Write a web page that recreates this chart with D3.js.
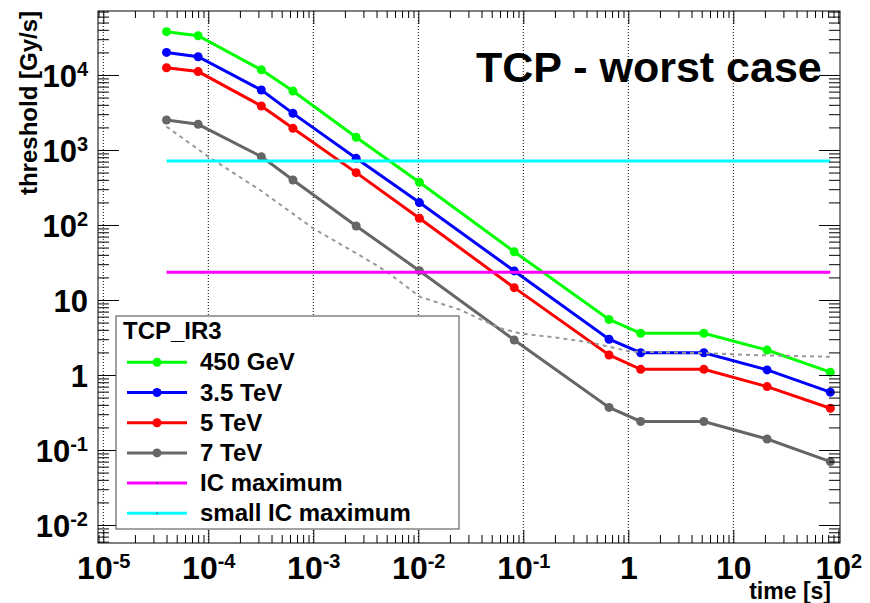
<!DOCTYPE html>
<html>
<head>
<meta charset="utf-8">
<script src="https://cdn.jsdelivr.net/npm/d3@7"></script>
<style>
body { margin: 0; background: #fff; }
text { font-family: "Liberation Sans", Arial, Helvetica, sans-serif; font-weight: bold; fill: #000; }
</style>
</head>
<body>
<div id="chart-area"></div>
<script>
// running-sum integration times [s]
var times = [4e-5, 8e-5, 3.2e-4, 6.4e-4, 2.56e-3, 1.024e-2, 8.192e-2, 0.655, 1.311, 5.243, 20.97, 83.89];

// thresholds [Gy/s]
var gev450 = [37800, 33400, 11700, 6100, 1475, 371, 44, 5.5, 3.6, 3.6, 2.15, 1.09];
var tev35 = [20000, 17500, 6300, 3080, 774, 199, 24.4, 3.0, 1.98, 1.98, 1.17, 0.59];
var tev5 = [12500, 11100, 3860, 1945, 499, 123, 14.6, 1.85, 1.19, 1.19, 0.70, 0.36];
var tev7 = [2510, 2200, 815, 398, 97, 24.6, 2.93, 0.37, 0.24, 0.24, 0.14, 0.07];

var icMax = 23.4;
var smallIcMax = 715;

// dashed reference curve (not in legend)
var refTimes = [4e-5, 1e-4, 3.1e-4, 1e-3, 3.7e-3, 5e-3, 1.04e-2, 0.025, 0.06, 0.093, 0.224, 0.46, 1.04, 5.1, 14.4, 83];
var refValues = [2050, 815, 293, 90, 31, 23.8, 11, 7.4, 4.2, 3.6, 3.1, 2.67, 2.05, 1.96, 1.85, 1.75];

var xMajor = [1e-5, 1e-4, 1e-3, 1e-2, 1e-1, 1, 10, 100];
var yMajor = [1e-2, 1e-1, 1, 10, 100, 1e3, 1e4];

var series = [
    { name: "450 GeV", values: gev450, color: "#00ff00" },
    { name: "3.5 TeV", values: tev35, color: "#0000ff" },
    { name: "5 TeV", values: tev5, color: "#ff0000" },
    { name: "7 TeV", values: tev7, color: "#666666" }
];

//Frame
var frame = { left: 98, right: 840, top: 11, bottom: 543 };

var svg = d3.select("#chart-area")
    .append("svg")
    .attr("width", 870)
    .attr("height", 603);

// SCALES
var x = d3.scaleLog()
    .domain([Math.pow(10, -5.0505), Math.pow(10, 2.016)])
    .range([frame.left, frame.right]);

var y = d3.scaleLog()
    .domain([Math.pow(10, -2.24), Math.pow(10, 4.853)])
    .range([frame.bottom, frame.top]);

function minorTicks(scale) {
    var d = scale.domain(), out = [];
    for (var e = -7; e <= 5; e++) {
        for (var k = 2; k <= 9; k++) {
            var v = k * Math.pow(10, e);
            if (v > d[0] && v < d[1]) out.push(v);
        }
    }
    return out;
}

// grid (x only)
svg.append("g").selectAll("line")
    .data(xMajor.filter((d) => x(d) < frame.right - 3))
    .enter().append("line")
    .attr("x1", (d) => x(d)).attr("x2", (d) => x(d))
    .attr("y1", frame.top).attr("y2", frame.bottom)
    .attr("stroke", "#000")
    .attr("stroke-width", 1)
    .attr("stroke-dasharray", "1,2");

//---SERIES
var line = d3.line()
    .x((d) => x(d[0]))
    .y((d) => y(d[1]));

series.forEach((s) => {
    var pts = times.map((t, i) => [t, s.values[i]]);
    svg.append("path")
        .datum(pts)
        .attr("d", line)
        .attr("fill", "none")
        .attr("stroke", s.color)
        .attr("stroke-width", 3);
    svg.append("g").selectAll("circle")
        .data(pts).enter()
        .append("circle")
        .attr("cx", (d) => x(d[0]))
        .attr("cy", (d) => y(d[1]))
        .attr("r", 4.5)
        .attr("fill", s.color);
});

// dashed reference curve
svg.append("path")
    .datum(refTimes.map((t, i) => [t, refValues[i]]))
    .attr("d", line)
    .attr("fill", "none")
    .attr("stroke", "#999")
    .attr("stroke-width", 2)
    .attr("stroke-dasharray", "4,4");

// IC limits
var tFirst = times[0], tLast = times[times.length - 1];
[[smallIcMax, "#00ffff"], [icMax, "#ff00ff"]].forEach((h) => {
    svg.append("line")
        .attr("x1", x(tFirst)).attr("x2", x(tLast))
        .attr("y1", y(h[0])).attr("y2", y(h[0]))
        .attr("stroke", h[1])
        .attr("stroke-width", 3);
});

//AXIS
function powLabel(sel, v) {
    var e = Math.round(Math.log10(v));
    sel.text(null);
    if (e === 0) { sel.append("tspan").text("1"); return; }
    if (e === 1) { sel.append("tspan").text("10"); return; }
    sel.append("tspan").text("10");
    sel.append("tspan").attr("dy", -11).style("font-size", "20px").text(e);
}

function styleAxis(g) {
    g.select(".domain").remove();
    g.selectAll(".tick line").attr("stroke", "#000").attr("stroke-width", 1);
}

var xBottom = svg.append("g").attr("transform", "translate(0," + frame.bottom + ")")
    .call(d3.axisBottom(x).tickValues(xMajor).tickSize(-13).tickSizeOuter(0));
styleAxis(xBottom);
xBottom.selectAll("text")
    .attr("y", 36).attr("dy", null)
    .style("font-size", "32px")
    .attr("text-anchor", "middle")
    .each(function (d) { powLabel(d3.select(this), d); });

svg.append("g").attr("transform", "translate(0," + frame.bottom + ")")
    .call(d3.axisBottom(x).tickValues(minorTicks(x)).tickSize(-8).tickSizeOuter(0).tickFormat(""))
    .call(styleAxis);
svg.append("g").attr("transform", "translate(0," + frame.top + ")")
    .call(d3.axisTop(x).tickValues(xMajor).tickSize(-13).tickSizeOuter(0).tickFormat(""))
    .call(styleAxis);
svg.append("g").attr("transform", "translate(0," + frame.top + ")")
    .call(d3.axisTop(x).tickValues(minorTicks(x)).tickSize(-7).tickSizeOuter(0).tickFormat(""))
    .call(styleAxis);

var yLeft = svg.append("g").attr("transform", "translate(" + frame.left + ",0)")
    .call(d3.axisLeft(y).tickValues(yMajor).tickSize(-21).tickSizeOuter(0));
styleAxis(yLeft);
yLeft.selectAll("text")
    .attr("x", -10).attr("dy", 12)
    .style("font-size", "31px")
    .attr("text-anchor", "end")
    .each(function (d) { powLabel(d3.select(this), d); });

svg.append("g").attr("transform", "translate(" + frame.left + ",0)")
    .call(d3.axisLeft(y).tickValues(minorTicks(y)).tickSize(-11).tickSizeOuter(0).tickFormat(""))
    .call(styleAxis);
svg.append("g").attr("transform", "translate(" + frame.right + ",0)")
    .call(d3.axisRight(y).tickValues(yMajor).tickSize(-21).tickSizeOuter(0).tickFormat(""))
    .call(styleAxis);
svg.append("g").attr("transform", "translate(" + frame.right + ",0)")
    .call(d3.axisRight(y).tickValues(minorTicks(y)).tickSize(-11).tickSizeOuter(0).tickFormat(""))
    .call(styleAxis);

// frame
svg.append("rect")
    .attr("x", frame.left).attr("y", frame.top)
    .attr("width", frame.right - frame.left).attr("height", frame.bottom - frame.top)
    .attr("fill", "none")
    .attr("stroke", "#000")
    .attr("stroke-width", 1);

//---TITLE LABELS
svg.append("text")
    .attr("x", 476).attr("y", 82)
    .style("font-size", "43px")
    .text("TCP - worst case");

svg.append("text")
    .attr("x", 831).attr("y", 599)
    .attr("text-anchor", "end")
    .style("font-size", "23px")
    .text("time [s]");

svg.append("text")
    .attr("transform", "translate(37," + frame.top + ") rotate(-90)")
    .attr("text-anchor", "end")
    .style("font-size", "24px")
    .text("threshold [Gy/s]");

//---LEGEND
var legend = svg.append("g");
legend.append("rect")
    .attr("x", 116).attr("y", 316)
    .attr("width", 343).attr("height", 213)
    .attr("fill", "#fff")
    .attr("stroke", "#444")
    .attr("stroke-width", 1);

legend.append("text")
    .attr("x", 123).attr("y", 339)
    .style("font-size", "24px")
    .text("TCP_IR3");

var legendItems = series.map((s) => ({ name: s.name, color: s.color, marker: true }))
    .concat([
        { name: "IC maximum", color: "#ff00ff", marker: false },
        { name: "small IC maximum", color: "#00ffff", marker: false }
    ]);

legendItems.forEach((d, i) => {
    var cy = 362.3 + i * 30.2;
    legend.append("line")
        .attr("x1", 127).attr("x2", 187)
        .attr("y1", cy).attr("y2", cy)
        .attr("stroke", d.color)
        .attr("stroke-width", 3);
    legend.append("circle")
        .attr("cx", 157).attr("cy", cy)
        .attr("r", d.marker ? 4.5 : 0.8)
        .attr("fill", d.marker ? d.color : "#333");
    legend.append("text")
        .attr("x", 200).attr("y", cy + 8)
        .style("font-size", "24px")
        .text(d.name);
});
</script>
</body>
</html>
